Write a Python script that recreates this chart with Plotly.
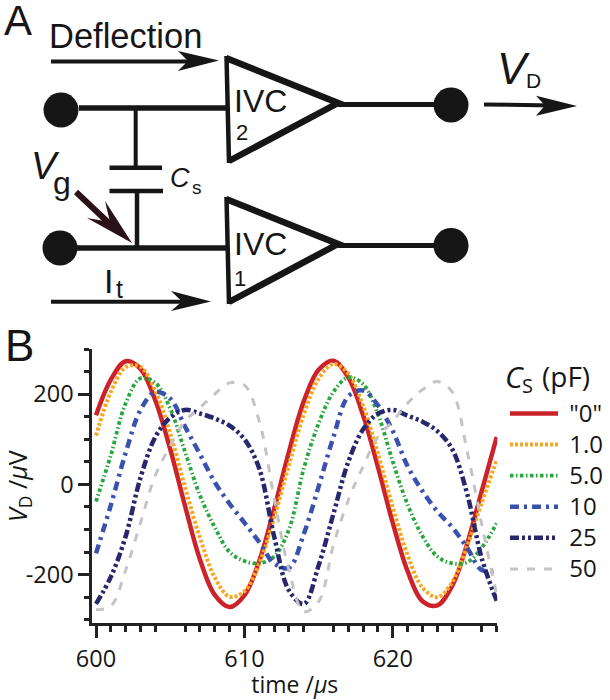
import plotly.graph_objects as go

time_us = [600, 601, 602, 603, 604, 605, 606, 607, 608, 609, 610, 611, 612, 613,
           614, 615, 616, 617, 618, 619, 620, 621, 622, 623, 624, 625, 626, 627]
v_0 = [153, 232, 273, 256, 186, 78, -48, -166, -245, -272, -246, -170, -55, 72,
       184, 254, 274, 237, 153, 38, -86, -193, -259, -268, -225, -133, -14, 105]
v_1 = [108, 205, 260, 260, 207, 113, -6, -118, -206, -249, -237, -175, -74, 43,
       155, 234, 267, 245, 174, 68, -51, -157, -229, -250, -217, -137, -40, 54]
v_5 = [-38, 65, 180, 235, 225, 168, 72, -24, -95, -150, -170, -175, -160, -100,
       35, 135, 205, 237, 222, 155, 50, -45, -115, -160, -175, -173, -140, -86]
v_10 = [-153, -46, 70, 165, 205, 190, 128, 67, 5, -43, -85, -128, -175, -185,
        -110, -5, 105, 195, 208, 175, 118, 40, -15, -60, -95, -140, -190, -190]
v_25 = [-265, -205, -115, 15, 105, 148, 165, 157, 146, 130, 100, 35, -115, -235,
        -265, -180, -65, 50, 122, 157, 165, 152, 139, 118, 78, -20, -165, -258]
v_50 = [-278, -270, -190, -85, 20, 85, 140, 170, 200, 225, 220, 140, -30, -190,
        -282, -260, -134, -35, 40, 105, 140, 180, 210, 228, 205, 75, -90, -245]

series_names = ['"0"', "1.0", "5.0", "10", "25", "50"]
series_values = [v_0, v_1, v_5, v_10, v_25, v_50]
series_colors = ["#cc2229", "#f7a823", "#2aa63f", "#3a52ad", "#27276e", "#c4c4c4"]
series_widths = [4.5, 4, 3.8, 4.5, 4.5, 3]
series_dashes = ["solid", "3px,2px", "3.5px,2.5px,1.5px,2.5px", "9px,5px,3px,5px",
                 "9px,3px,3px,3px,3px,3px", "8px,9px"]

x_major = [600, 610, 620]
x_labels = ["600", "610", "620"]
x_mid = [605, 615, 625]
x_minor = [t for t in time_us if t not in x_major and t not in x_mid]
y_major = [-200, 0, 200]
y_labels = ["-200", "0", "200"]
y_minor = [-300, -250, -150, -100, -50, 50, 100, 150, 250, 300]

W, H = 610, 700
INK = "#161616"


def px(x):
    return x / W


def py(y):
    return 1 - y / H


def path(points, close=False):
    s = "M " + " L ".join(f"{px(x):.5f},{py(y):.5f}" for x, y in points)
    return s + (" Z" if close else "")


shapes = []


def wire(points, width, color=INK):
    shapes.append(dict(type="path", xref="paper", yref="paper", path=path(points),
                       line=dict(color=color, width=width), layer="above"))


def dot(cx, cy, r):
    shapes.append(dict(type="circle", xref="paper", yref="paper",
                       x0=px(cx - r), x1=px(cx + r), y0=py(cy + r), y1=py(cy - r),
                       fillcolor=INK, line=dict(width=0), layer="above"))


def head(points, color=INK):
    shapes.append(dict(type="path", xref="paper", yref="paper", path=path(points, True),
                       fillcolor=color, line=dict(width=0), layer="above"))


# input / output terminals
for c in [(61, 110), (60, 248), (451, 105), (451, 245.5)]:
    dot(c[0], c[1], 17.5)

# amplifiers
for y0 in (0, 141):
    wire([(226, 58 + y0), (338, 103 + y0), (229, 161 + y0)], 6.5)
    wire([(226.5, 56 + y0), (229, 163 + y0)], 4.5)
    wire([(338, 104.5 + y0), (434, 104.5 + y0)], 5)

# wiring and capacitor
wire([(79, 108), (227, 108)], 5.5)
wire([(77, 248), (227, 248)], 5.5)
wire([(135.7, 108), (135.7, 167)], 4)
wire([(109.5, 167.7), (162, 167.7)], 4.5)
wire([(109.5, 191), (163, 191)], 4.5)
wire([(137, 191), (137, 248)], 4.5)

# arrows
wire([(51, 61.5), (195, 61.5)], 4)
head([(219, 60.5), (178, 51), (188, 61), (178, 71)])
wire([(51, 301.7), (190, 301.7)], 4)
head([(211, 301.5), (171, 291), (182, 301.5), (171, 311)])
wire([(484, 104.5), (555, 105.5)], 4)
head([(577, 106), (536, 95.7), (545, 105.5), (536, 115.7)])
wire([(76, 192), (112, 226)], 6, "#2a1218")
head([(132, 243), (105, 201), (110, 222), (87, 218)], "#2a1218")


def label(text, x, y, size, anchor="left", italic=False, family="Liberation Sans"):
    return dict(xref="paper", yref="paper", x=px(x), y=py(y), xanchor=anchor, yanchor="middle",
                text=f"<i>{text}</i>" if italic else text, showarrow=False,
                font=dict(family=family, size=size, color=INK), borderpad=0, borderwidth=0)


annotations = [
    label("A", 4, 20, 42),
    label("B", 5, 346, 44),
    label("Deflection", 49, 36, 34.5),
    label("IVC", 234, 101, 32),
    label("2", 236, 133, 22),
    label("IVC", 234, 244, 32),
    label("1", 234, 278, 22),
    label("V", 497, 69, 44, italic=True),
    label("D", 526, 81, 21),
    label("V", 31, 166, 38, italic=True),
    label("g", 53, 183, 32),
    label("C", 170, 178, 27, italic=True),
    label("s", 192, 187, 19),
    label("I", 104, 281, 34),
    label("t", 116, 289, 25),
    label("C", 505, 376, 30, italic=True, family="Open Sans"),
    label("S", 522, 386, 20, family="Open Sans"),
    label("(pF)", 542, 376, 28, family="Open Sans"),
]

fig = go.Figure()
for name, vals, col, wid, dash in zip(series_names, series_values, series_colors,
                                      series_widths, series_dashes):
    fig.add_trace(go.Scatter(
        x=time_us, y=vals, mode="lines", line=dict(color=col, width=wid, dash=dash,
                                                   shape="spline", smoothing=1.0),
        name=f'<span style="font-size:24px">\u00a0{name}</span>'))

axis_font = dict(family="Open Sans", size=23.5, color=INK)
axis_line = dict(showline=True, linecolor="#222222", linewidth=3, showgrid=False, zeroline=False,
                 ticks="outside", tickcolor="#222222", tickwidth=2.8, automargin=False)

fig.update_layout(
    width=W, height=H, autosize=False,
    margin=dict(l=0, r=0, t=0, b=0),
    paper_bgcolor="white", plot_bgcolor="white",
    shapes=shapes, annotations=annotations,
    font=dict(family="Open Sans", color=INK),
    legend=dict(x=px(505), y=py(393), xanchor="left", yanchor="top", itemwidth=48,
                font=dict(family="Open Sans", size=21.6, color=INK), bgcolor="rgba(0,0,0,0)",
                traceorder="normal", tracegroupgap=0),
    xaxis=dict(domain=[px(92.3), px(497.3)], range=[599.75, 627.04], anchor="y",
               tickmode="array", tickvals=x_major, ticktext=x_labels, ticklen=12, tickfont=axis_font,
               minor=dict(tickmode="array", tickvals=x_minor, ticklen=6, ticks="outside",
                          tickcolor="#222222", tickwidth=2.8),
               title=dict(text="time /<i>µ</i>s", font=dict(family="Open Sans", size=23, color=INK)),
               **axis_line),
    xaxis2=dict(domain=[px(92.3), px(497.3)], range=[599.75, 627.04], anchor="y", overlaying="x",
                side="bottom", tickmode="array", tickvals=x_mid, ticklen=9, showticklabels=False,
                **axis_line),
    yaxis=dict(domain=[py(623.3), py(349)], range=[-307.9, 300], anchor="x",
               tickmode="array", tickvals=y_major, ticktext=y_labels, ticklen=11, tickfont=axis_font,
               minor=dict(tickmode="array", tickvals=y_minor, ticklen=5, ticks="outside",
                          tickcolor="#222222", tickwidth=2.8),
               title=dict(text="<i>V</i><sub>D</sub> /<i>µ</i>V",
                          font=dict(family="Open Sans", size=25, color=INK)),
               **axis_line),
)

fig.write_html("out.html", post_script="document.body.style.margin='0';",
               config={"displayModeBar": False})
